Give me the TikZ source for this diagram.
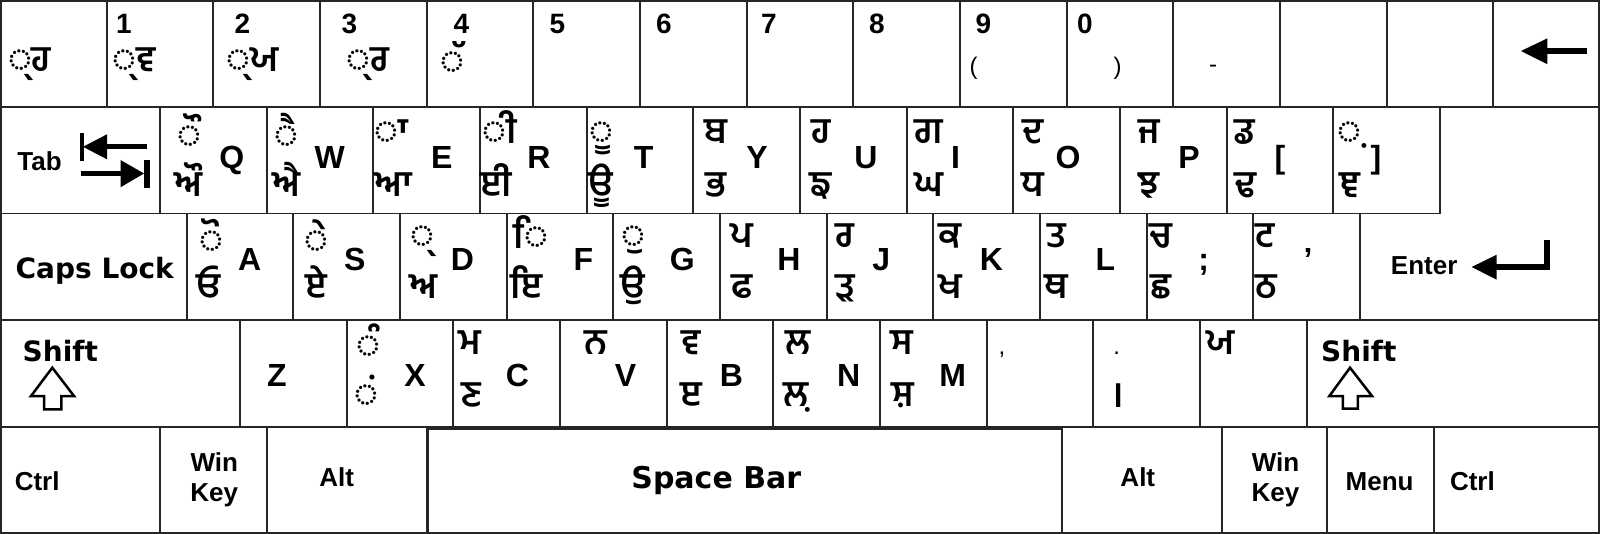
\documentclass[tikz,border=0pt]{standalone}
\usepackage{fontspec}
\setmainfont{Liberation Sans}
\newfontfamily\gurf[Script=Gurmukhi]{Hind Jalandhar}
\newfontfamily\dejav{DejaVu Sans}
\begin{document}
\begin{tikzpicture}[x=1pt,y=-1pt,
 keyline/.style={line width=1.8pt, draw=black!85},
 lat/.style={font=\fontsize{32}{32}\selectfont\bfseries, inner sep=0pt, anchor=base},
 dig/.style={font=\fontsize{28}{28}\selectfont\bfseries, inner sep=0pt, anchor=base},
 gk/.style={font=\gurf\fontsize{36}{36}\selectfont\bfseries, inner sep=0pt, anchor=base},
 lbl/.style={font=\fontsize{26}{26}\selectfont\bfseries, inner sep=0pt, anchor=base},
 dlbl/.style={font=\dejav\fontsize{28}{28}\selectfont\bfseries, inner sep=0pt, anchor=base},
 pun/.style={font=\fontsize{24}{24}\selectfont, inner sep=0pt, anchor=base},
 arrowfill/.style={fill=black},
 shiftarrow/.style={draw=black, line width=2.5pt, line join=miter}]
\useasboundingbox (0,0) rectangle (1600,534);
\fill[white] (0,0) rectangle (1600,534);
% ---- key outlines ----
\foreach \i in {0,...,14} \draw[keyline] ({\i*106.667},0) rectangle ({(\i+1)*106.667},106.8);
\draw[keyline] (0,106.8) rectangle (160,213.6);
\foreach \i in {0,...,11} \draw[keyline] ({160+\i*106.667},106.8) rectangle ({160+(\i+1)*106.667},213.6);
\draw[keyline] (1440,106.8) -- (1600,106.8) -- (1600,320.4) -- (1360,320.4) -- (1360,213.6) -- (1440,213.6) -- cycle;
\draw[keyline] (0,213.6) rectangle (186.667,320.4);
\foreach \i in {0,...,10} \draw[keyline] ({186.667+\i*106.667},213.6) rectangle ({186.667+(\i+1)*106.667},320.4);
\draw[keyline] (0,320.4) rectangle (240,427.2);
\foreach \i in {0,...,9} \draw[keyline] ({240+\i*106.667},320.4) rectangle ({240+(\i+1)*106.667},427.2);
\draw[keyline] (1306.667,320.4) rectangle (1600,427.2);
\foreach \a/\b in {0/160,160/266.667,266.667/426.667,1062/1222,1222/1327,1327/1434,1434/1600}
  \draw[keyline] (\a,427.2) rectangle (\b,534);
\draw[keyline, line width=2.6pt] (427.5,428.2) rectangle (1062,533);
\draw[keyline] (1,1) rectangle (1599,533);
% ---- row 1 ----
\node[dig] (d1) at (124,34) {1};
\node[dig] (d2) at (242.5,34) {2};
\node[dig] (d3) at (349.5,34) {3};
\node[dig] (d4) at (461.5,34) {4};
\node[dig] (d5) at (557.5,34) {5};
\node[dig] (d6) at (664,34) {6};
\node[dig] (d7) at (769,34) {7};
\node[dig] (d8) at (877,34) {8};
\node[dig] (d9) at (983.5,34) {9};
\node[dig] (d0) at (1085,34) {0};
\node[gk] (g0) at (29.5,72) {◌੍^^^^200cਹ};
\node[gk] (g1) at (134.5,72) {◌੍^^^^200cਵ};
\node[gk] (g2) at (252.3,72) {◌੍^^^^200cਯ};
\node[gk] (g3) at (367.6,72) {◌੍^^^^200cਰ};
\node[gk] (g4) at (452.8,74) {◌ੱ};
\node[pun] (p1) at (973.5,75) {(};
\node[pun] (p2) at (1117.5,75) {)};
\node[pun] (p3) at (1213,73) {-};
\fill[arrowfill] (1521,51) -- (1547.4,38.3) -- (1547.4,64.3) -- cycle;
\fill[arrowfill] (1546,47.7) rectangle (1586.7,54.3);
% ---- row 2 ----
\node[lbl] (tab) at (39.6,170.7) {Tab};
\fill[arrowfill] (80,133.3) rectangle (84,160.7);
\fill[arrowfill] (83,146.8) -- (107,134.3) -- (107,159.3) -- cycle;
\fill[arrowfill] (106,144.3) rectangle (147.4,149.3);
\fill[arrowfill] (81,171) rectangle (121,176);
\fill[arrowfill] (144,173.5) -- (120.5,160) -- (120.5,187.3) -- cycle;
\fill[arrowfill] (144,160) rectangle (150,188);
\foreach \nm/\x/\yy/\t in {q/189.5/147.5/◌ੌ, w/286/147.5/◌ੈ, e/391/143.3/◌ਾ, r/500/143.3/◌ੀ, t/601.6/143.3/◌ੂ, y/716/143.3/ਬ, u/821/143.3/ਹ, i/928.6/143.3/ਗ, o/1032.8/143.3/ਦ, p/1148.7/143.3/ਜ, lb/1245/143.3/ਡ, rb/1349.6/143.3/◌਼}
  \node[gk] (top-\nm) at (\x,\yy) {\t};
\foreach \nm/\x/\t in {q/188.5/ਔ, w/286/ਐ, e/393.5/ਆ, r/496/ਈ, t/600.6/ਊ, y/716/ਭ, u/821/ਙ, i/928.6/ਘ, o/1032.8/ਧ, p/1148.7/ਝ, lb/1245/ਢ, rb/1350/ਞ}
  \node[gk] (bot-\nm) at (\x,196.7) {\t};
\foreach \nm/\x/\t in {q/231.7/Q, w/329.7/W, e/441.7/E, r/539/R, t/643.6/T, y/757/Y, u/866/U, i/955.5/I, o/1068/O, p/1189/P, lb/1280/[, rb/1376/]}
  \node[lat] (let-\nm) at (\x,169) {\t};
% ---- row 3 ----
\node[dlbl] (caps) at (94.7,278.7) {Caps Lock};
\node[lbl] (enter) at (1424.2,274.7) {Enter};
\fill[arrowfill] (1471.6,267) -- (1496.7,254.7) -- (1496.7,279.7) -- cycle;
\draw[line width=6pt, line join=miter] (1495,267) -| (1547,240.3);
\foreach \nm/\x/\yy/\t in {a/211/253/◌ੋ, s/316.8/253/◌ੇ, d/422.8/248/◌੍, f/531/249/◌ਿ, g/633.3/248/◌ੁ, h/741.8/248/ਪ, j/845/248/ਰ, k/950/248/ਕ, l/1057/248/ਤ, sc/1160.7/248/ਚ, ap/1265.6/248/ਟ}
  \node[gk] (top-\nm) at (\x,\yy) {\t};
\foreach \nm/\x/\t in {a/209/ਓ, s/315.7/ਏ, d/423.6/ਅ, f/526/ਇ, g/632.5/ਉ, h/741.8/ਫ, j/845/ੜ, k/950/ਖ, l/1056/ਥ, sc/1160.7/ਛ, ap/1266/ਠ}
  \node[gk] (bot-\nm) at (\x,299) {\t};
\foreach \nm/\x/\t in {a/249.7/A, s/354.7/S, d/462.4/D, f/583.4/F, g/682.3/G, h/789/H, j/881.3/J, k/991.5/K, l/1105.5/L, sc/1203.8/;}
  \node[lat] (let-\nm) at (\x,271) {\t};
\node[lat] (let-ap) at (1308,271) {'};
% ---- row 4 ----
\node[dlbl] (lshift) at (60.3,361) {Shift};
\node[dlbl] (rshift) at (1358.8,361) {Shift};
\draw[shiftarrow] (52.3,367.7) -- (74,396) -- (61.3,396) -- (61.3,409.3) -- (44,409.3) -- (44,396) -- (31,396) -- cycle;
\draw[shiftarrow] (1350,367.7) -- (1372,396) -- (1357.9,396) -- (1357.9,408.7) -- (1342.8,408.7) -- (1342.8,396) -- (1329.4,396) -- cycle;
\foreach \nm/\x/\yy/\t in {x/368/357/◌ੰ, c/470/354/ਮ, v/596/354/ਨ, b/691/354/ਵ, n/797.8/354/ਲ, m/902/354/ਸ, sl/1221/354/ਯ}
  \node[gk] (top-\nm) at (\x,\yy) {\t};
\foreach \nm/\x/\t in {x/366/◌ਂ, c/471/ਣ, b/691/ੲ, n/796/ਲ਼, m/903/ਸ਼}
  \node[gk] (bot-\nm) at (\x,406) {\t};
\foreach \nm/\x/\t in {z/277/Z, x/415/X, c/517.5/C, v/625.6/V, b/731.4/B, n/848.6/N, m/952.7/M}
  \node[lat] (let-\nm) at (\x,386) {\t};
\node[pun] (comma) at (1002,354) {,};
\node[pun] (period) at (1116.8,355) {.};
\node[gk] (danda) at (1116.8,407) {।};
% ---- row 5 ----
\node[lbl] (lctrl) at (37.2,490) {Ctrl};
\node[lbl] (lwin1) at (214.3,471) {Win};
\node[lbl] (lwin2) at (214.3,501) {Key};
\node[lbl] (lalt) at (336.7,486.7) {Alt};
\node[dlbl, font=\dejav\fontsize{30}{30}\selectfont\bfseries] (space) at (716.3,488) {Space Bar};
\node[lbl] (ralt) at (1137.8,486.7) {Alt};
\node[lbl] (rwin1) at (1275.5,471) {Win};
\node[lbl] (rwin2) at (1275.5,501) {Key};
\node[lbl] (menu) at (1379.6,490) {Menu};
\node[lbl] (rctrl) at (1472.4,490) {Ctrl};
\end{tikzpicture}
\end{document}
